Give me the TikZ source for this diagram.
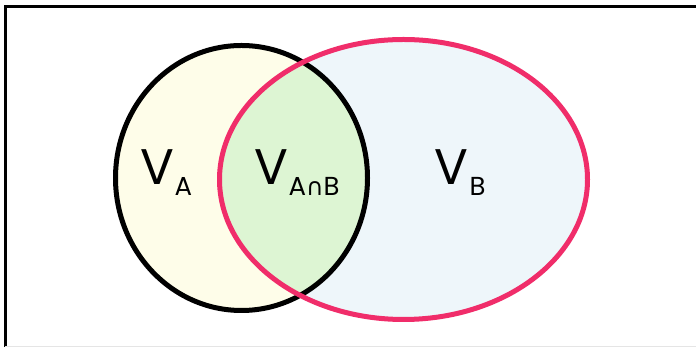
\documentclass[tikz,border=0pt]{standalone}
\usepackage{fontspec}
\setmainfont{Poppins}
\newfontfamily\symfont{DejaVu Sans}
\definecolor{afill}{HTML}{FEFDE9}
\definecolor{bfill}{HTML}{EEF6FA}
\definecolor{abfill}{HTML}{DDF5D3}
\definecolor{bred}{HTML}{F02D6A}
\newcommand{\bigV}{\fontsize{50}{50}\selectfont V}
\newcommand{\subtx}[1]{\raisebox{-11pt}{\fontsize{26}{26}\selectfont #1}}
\begin{document}
\begin{tikzpicture}[x=1pt,y=1pt,
  lbl/.style={anchor=base west, inner sep=0pt, text=black}]
\useasboundingbox (0,0) rectangle (696,347);
% frame
\draw[line width=3pt, black] (5,0) -- (5,340) -- (696,340);
\draw[line width=0.8pt, black!10] (5,0.5) -- (696,0.5);
% fills
\fill[afill] (241.5,169) ellipse [x radius=126, y radius=132.5];
\fill[bfill] (403.5,167.5) ellipse [x radius=184, y radius=140];
\begin{scope}
  \clip (241.5,169) ellipse [x radius=126, y radius=132.5];
  \fill[abfill] (403.5,167.5) ellipse [x radius=184, y radius=140];
\end{scope}
% outlines
\draw[line width=5pt, black] (241.5,169) ellipse [x radius=126, y radius=132.5];
\draw[line width=5pt, bred] (403.5,167.5) ellipse [x radius=184, y radius=140];
% labels
\node[lbl] (va) at (140,162) {\bigV\kern0.5pt\subtx{A}};
\node[lbl] (vab) at (254,162) {\bigV\kern0.5pt\subtx{A{\symfont\fontsize{24}{24}\selectfont∩}B}};
\node[lbl] (vb) at (434,162) {\bigV\kern1.5pt\subtx{B}};
\end{tikzpicture}
\end{document}
